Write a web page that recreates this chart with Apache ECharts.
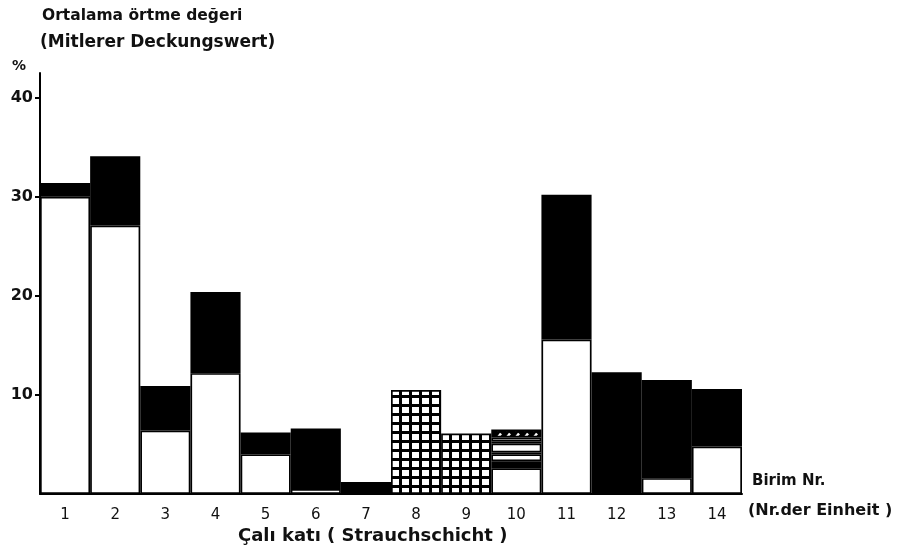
<!DOCTYPE html>
<html>
<head>
<meta charset="utf-8">
<script src="https://cdn.jsdelivr.net/npm/echarts@6/dist/echarts.min.js"></script>
<style>
  html, body { margin: 0; padding: 0; background: #fff; }
  #chart { width: 915px; height: 551px; }
</style>
</head>
<body>
<div id="chart"></div>
<script>
// ---- data ----
const categories = ['1','2','3','4','5','6','7','8','9','10','11','12','13','14'];
// lower open (white) part of each bar, %
const openLayer  = [30.0, 27.1, 6.4, 12.2, 4.0, 0.5, 0, 0, 0, 2.6, 15.6, 0, 1.6, 4.8];
// checkered part (units 8, 9)
const gridLayer  = [0, 0, 0, 0, 0, 0, 0, 10.5, 6.1, 0, 0, 0, 0, 0];
// banded layers of unit 10, bottom to top (above its open base)
const unit10Bands = [0.7, 0.7, 0.2, 0.9, 0.2, 0.4, 0.8];
const unit10Kinds = ['solid', 'open', 'solid', 'open', 'solid', 'open', 'hatch'];
// upper solid (black) part of each bar, %
const solidLayer = [1.4, 7.0, 4.5, 8.2, 2.2, 6.1, 1.2, 0, 0, 0, 14.6, 12.3, 9.9, 5.8];
const yTickLabels = [10, 20, 30, 40];
const yMax = 42.5;

const FONT = "'DejaVu Sans', sans-serif";

function makeGridPattern() {
  const c = document.createElement('canvas');
  c.width = 10; c.height = 9;
  const g = c.getContext('2d');
  g.fillStyle = '#000'; g.fillRect(0, 0, 10, 9);
  g.fillStyle = '#fff'; g.fillRect(2, 2, 7, 6);
  return c;
}
function makeHatchPattern() {
  const c = document.createElement('canvas');
  c.width = 9; c.height = 8;
  const g = c.getContext('2d');
  g.fillStyle = '#000'; g.fillRect(0, 0, 9, 8);
  g.strokeStyle = '#fff'; g.lineWidth = 2.5;
  g.beginPath(); g.moveTo(2, 6.5); g.lineTo(6, 1.5); g.stroke();
  return c;
}
const gridFill = { image: makeGridPattern(), repeat: 'repeat' };
const hatchFill = { image: makeHatchPattern(), repeat: 'repeat' };

const nz = v => (v ? v : null);
const styleFor = kind => ({
  color: kind === 'solid' ? '#000' : kind === 'open' ? '#fff' : kind === 'grid' ? gridFill : hatchFill,
  borderColor: '#000',
  borderWidth: 1.7
});
const barBase = { type: 'bar', stack: 'u', barCategoryGap: '0%', barGap: '0%', animation: false, silent: true };

const series = [];
series.push(Object.assign({}, barBase, { name: 'open', data: openLayer.map(nz), itemStyle: styleFor('open') }));
series.push(Object.assign({}, barBase, { name: 'grid', data: gridLayer.map(nz), itemStyle: styleFor('grid') }));
unit10Bands.forEach((v, i) => {
  series.push(Object.assign({}, barBase, {
    name: 'u10_' + i,
    data: categories.map((c, j) => (j === 9 ? v : null)),
    itemStyle: styleFor(unit10Kinds[i])
  }));
});
series.push(Object.assign({}, barBase, { name: 'solid', data: solidLayer.map(nz), itemStyle: styleFor('solid') }));

const chart = echarts.init(document.getElementById('chart'), null, { renderer: 'canvas' });
chart.setOption({
  animation: false,
  backgroundColor: '#fff',
  grid: { left: 40, right: 173, top: 73, bottom: 57, containLabel: false, outerBoundsMode: 'none' },
  xAxis: {
    type: 'category',
    data: categories,
    axisLine: { show: true, lineStyle: { color: '#000', width: 2 } },
    axisTick: { show: false },
    axisLabel: { color: '#111', fontSize: 15, fontFamily: FONT, margin: 14 },
    splitLine: { show: false }
  },
  yAxis: {
    type: 'value',
    min: 0, max: yMax, interval: 10,
    axisLine: { show: true, lineStyle: { color: '#000', width: 2 } },
    axisTick: { show: true, length: 5, lineStyle: { color: '#000', width: 2 }, customValues: yTickLabels },
    axisLabel: {
      color: '#111', fontSize: 16, fontWeight: 'bold', fontFamily: FONT, margin: 7,
      customValues: yTickLabels,
      formatter: v => (yTickLabels.indexOf(v) >= 0 ? String(v) : '')
    },
    splitLine: { show: false }
  },
  graphic: [
    { type: 'text', left: 42, top: 8, style: { text: 'Ortalama örtme değeri', font: 'bold 15.5px ' + FONT, fill: '#111' } },
    { type: 'text', left: 40, top: 34, style: { text: '(Mitlerer Deckungswert)', font: 'bold 17px ' + FONT, fill: '#111' } },
    { type: 'text', left: 12, top: 59, style: { text: '%', font: 'bold 14px ' + FONT, fill: '#111' } },
    { type: 'text', left: 752, top: 474, style: { text: 'Birim Nr.', font: 'bold 15px ' + FONT, fill: '#111' } },
    { type: 'text', left: 748, top: 503, style: { text: '(Nr.der Einheit )', font: 'bold 16px ' + FONT, fill: '#111' } },
    { type: 'text', left: 238, top: 527, style: { text: 'Çalı katı ( Strauchschicht )', font: 'bold 18px ' + FONT, fill: '#111' } }
  ],
  series: series
});
</script>
</body>
</html>
